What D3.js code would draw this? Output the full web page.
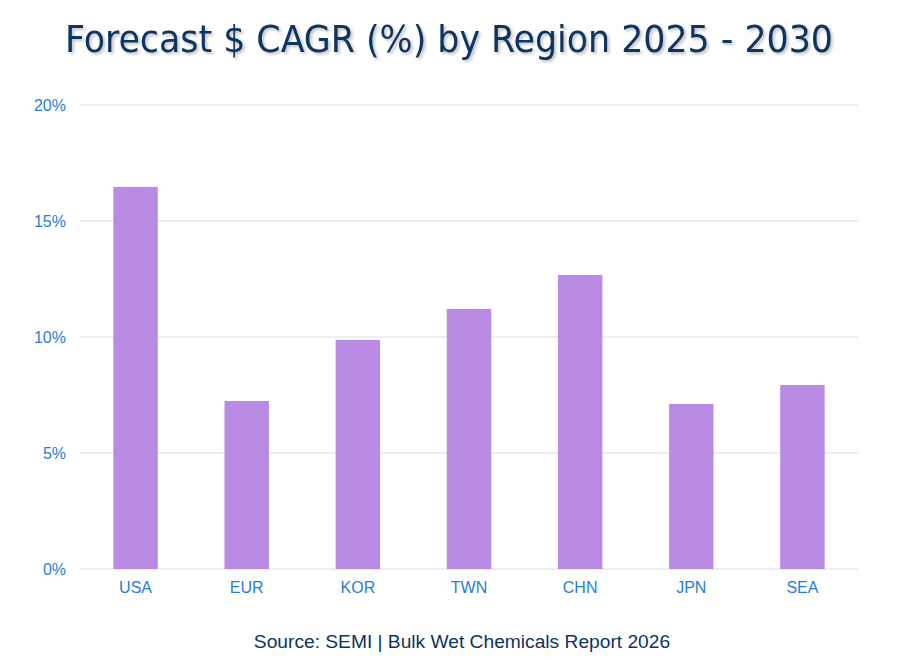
<!DOCTYPE html>
<html><head><meta charset="utf-8">
<script src="https://cdn.jsdelivr.net/npm/d3@7"></script>
<style>body{margin:0;background:#fff}svg{display:block}</style>
</head><body>
<script>
const categories = ["USA","EUR","KOR","TWN","CHN","JPN","SEA"];
const cagr = [16.47, 7.24, 9.87, 11.21, 12.67, 7.11, 7.93];
const yTicks = [0, 5, 10, 15, 20];
const title = "Forecast $ CAGR (%) by Region 2025 - 2030";
const source = "Source: SEMI | Bulk Wet Chemicals Report 2026";

const W = 899, H = 662;
const svg = d3.select("body").append("svg").attr("width", W).attr("height", H);
const defs = svg.append("defs");
const f = defs.append("filter").attr("id","sh").attr("x","-5%").attr("y","-20%").attr("width","110%").attr("height","150%");
f.append("feDropShadow").attr("dx",2).attr("dy",2).attr("stdDeviation",1.5).attr("flood-color","#000").attr("flood-opacity",0.25);

const x = d3.scaleBand().domain(categories).range([80, 858]).paddingInner(0.6).paddingOuter(0.3);
const y = d3.scaleLinear().domain([0, 20]).range([569, 105]);

// gridlines
svg.append("g").selectAll("line").data(yTicks).join("line")
  .attr("x1", 80).attr("x2", 858)
  .attr("y1", d => y(d)).attr("y2", d => y(d))
  .attr("stroke", "#cce2ee").attr("stroke-width", 1);

// y axis labels
const yAxis = svg.append("g").attr("transform","translate(80,0)")
  .call(d3.axisLeft(y).tickValues(yTicks).tickFormat(d => d + "%").tickSize(0).tickPadding(14));
yAxis.select(".domain").remove();
yAxis.selectAll("text").attr("fill","#1f80d8").attr("font-family","Liberation Sans, Arial, sans-serif").attr("font-size",16);

// bars
svg.append("g").selectAll("rect").data(categories).join("rect")
  .attr("x", d => x(d)).attr("width", x.bandwidth())
  .attr("y", (d,i) => y(cagr[i])).attr("height", (d,i) => y(0) - y(cagr[i]))
  .attr("fill", "#b98be5");

// x axis labels
const xAxis = svg.append("g").attr("transform","translate(0,569)")
  .call(d3.axisBottom(x).tickSize(0).tickPadding(13));
xAxis.select(".domain").remove();
xAxis.selectAll("text").attr("fill","#1f80d8").attr("font-family","Liberation Sans, Arial, sans-serif").attr("font-size",16);

// title
svg.append("text").attr("x", 449).attr("y", 52).attr("text-anchor","middle")
  .attr("font-family","DejaVu Sans Condensed, DejaVu Sans, sans-serif").attr("font-size",38)
  .attr("fill","#0b3461").attr("filter","url(#sh)")
  .attr("textLength", 768).attr("lengthAdjust","spacingAndGlyphs")
  .text(title);

// source
svg.append("text").attr("x", 462).attr("y", 648).attr("text-anchor","middle")
  .attr("font-family","Liberation Sans, Arial, sans-serif").attr("font-size",19.2)
  .attr("fill","#0b3461").text(source);
</script>
</body></html>
